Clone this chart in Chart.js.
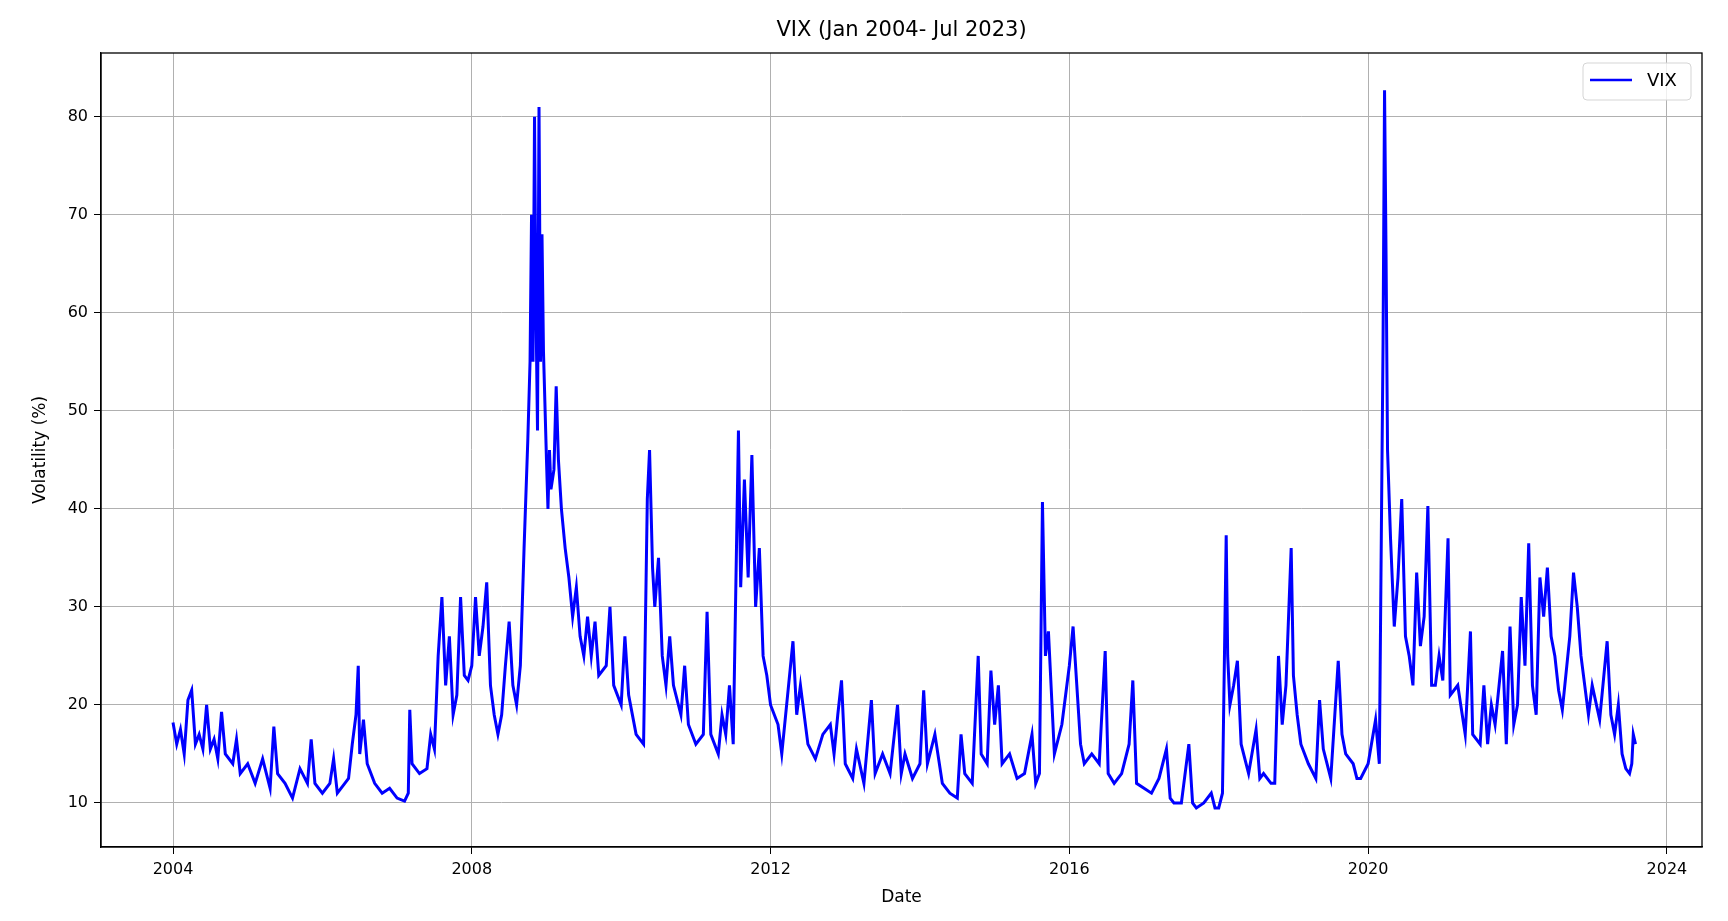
<!DOCTYPE html>
<html>
<head>
<meta charset="utf-8">
<script src="https://cdn.jsdelivr.net/npm/chart.js@4/dist/chart.umd.min.js"></script>
<style>
  html, body { margin: 0; padding: 0; background: #fff; }
  #wrap { width: 1728px; height: 921px; }
</style>
</head>
<body>
<div id="wrap"><canvas id="chartVix"></canvas></div>
<script>
// fechas en años decimales y valores del VIX
const fechas = [
  2004.0, 2004.05, 2004.1, 2004.15, 2004.2, 2004.25, 2004.3, 2004.35, 2004.4, 2004.45, 2004.5, 2004.55, 2004.6, 2004.65, 2004.7, 2004.8, 2004.85, 2004.9,
  2005.0, 2005.1, 2005.2, 2005.3, 2005.35, 2005.4, 2005.5, 2005.6, 2005.7, 2005.8, 2005.85, 2005.9,
  2006.0, 2006.1, 2006.15, 2006.2, 2006.3, 2006.35, 2006.4, 2006.45, 2006.48, 2006.5, 2006.55, 2006.6, 2006.7, 2006.8, 2006.9,
  2007.0, 2007.1, 2007.15, 2007.17, 2007.2, 2007.3, 2007.4, 2007.45, 2007.5, 2007.55, 2007.6, 2007.65, 2007.7, 2007.75, 2007.8, 2007.85, 2007.9, 2007.95,
  2008.0, 2008.05, 2008.1, 2008.15, 2008.2, 2008.25, 2008.3, 2008.35, 2008.4, 2008.45, 2008.5, 2008.55, 2008.6, 2008.65, 2008.7, 2008.75, 2008.78, 2008.8, 2008.82, 2008.84, 2008.86, 2008.88, 2008.9, 2008.92, 2008.94, 2008.96,
  2009.0, 2009.02, 2009.04, 2009.06, 2009.1, 2009.13, 2009.16, 2009.2, 2009.25, 2009.3, 2009.35, 2009.4, 2009.45, 2009.5, 2009.55, 2009.6, 2009.65, 2009.7, 2009.8, 2009.85, 2009.9,
  2010.0, 2010.05, 2010.1, 2010.2, 2010.3, 2010.35, 2010.38, 2010.42, 2010.45, 2010.5, 2010.55, 2010.6, 2010.65, 2010.7, 2010.8, 2010.85, 2010.9,
  2011.0, 2011.1, 2011.15, 2011.2, 2011.3, 2011.35, 2011.4, 2011.45, 2011.5, 2011.57, 2011.6, 2011.65, 2011.7, 2011.75, 2011.8, 2011.85, 2011.9, 2011.95,
  2012.0, 2012.1, 2012.15, 2012.3, 2012.35, 2012.4, 2012.5, 2012.6, 2012.7, 2012.8, 2012.85, 2012.9, 2012.95,
  2013.0, 2013.1, 2013.15, 2013.25, 2013.35, 2013.4, 2013.5, 2013.6, 2013.7, 2013.75, 2013.8, 2013.9,
  2014.0, 2014.05, 2014.1, 2014.2, 2014.3, 2014.4, 2014.5, 2014.55, 2014.6, 2014.7, 2014.78, 2014.82, 2014.9, 2014.95,
  2015.0, 2015.05, 2015.1, 2015.2, 2015.3, 2015.4, 2015.5, 2015.55, 2015.6, 2015.64, 2015.68, 2015.72, 2015.8, 2015.9,
  2016.0, 2016.05, 2016.1, 2016.15, 2016.2, 2016.3, 2016.4, 2016.48, 2016.52, 2016.6, 2016.7, 2016.8, 2016.85, 2016.9,
  2017.0, 2017.1, 2017.2, 2017.3, 2017.35, 2017.4, 2017.5, 2017.6, 2017.65, 2017.7, 2017.8, 2017.9, 2017.95,
  2018.0, 2018.05, 2018.1, 2018.12, 2018.15, 2018.2, 2018.25, 2018.3, 2018.4, 2018.5, 2018.55, 2018.6, 2018.7, 2018.75, 2018.8, 2018.85, 2018.9, 2018.97,
  2019.0, 2019.05, 2019.1, 2019.2, 2019.3, 2019.35, 2019.4, 2019.5, 2019.6, 2019.65, 2019.7, 2019.8, 2019.85, 2019.9,
  2020.0, 2020.1, 2020.15, 2020.18, 2020.2, 2020.22, 2020.24, 2020.26, 2020.3, 2020.35, 2020.4, 2020.45, 2020.5, 2020.55, 2020.6, 2020.65, 2020.7, 2020.75, 2020.8, 2020.85, 2020.9, 2020.95,
  2021.0, 2021.07, 2021.1, 2021.2, 2021.3, 2021.37, 2021.4, 2021.5, 2021.55, 2021.6, 2021.65, 2021.7, 2021.8, 2021.85, 2021.9, 2021.95,
  2022.0, 2022.05, 2022.1, 2022.15, 2022.2, 2022.25, 2022.3, 2022.35, 2022.4, 2022.45, 2022.5, 2022.55, 2022.6, 2022.7, 2022.75, 2022.8, 2022.85, 2022.9, 2022.95,
  2023.0, 2023.1, 2023.2, 2023.25, 2023.3, 2023.35, 2023.4, 2023.45, 2023.5, 2023.53, 2023.55, 2023.58
];
const valoresVix = [
  18.2, 16, 17.5, 15, 20.5, 21.5, 16, 17, 15.5, 20, 15.5, 16.5, 14.5, 19.3, 15, 14, 16.5, 13,
  14, 12, 14.5, 11.5, 17.8, 13, 12, 10.5, 13.5, 12, 16.5, 12,
  11, 12, 14.5, 11, 12, 12.5, 16, 19, 24, 15, 18.5, 14, 12, 11, 11.5,
  10.5, 10.2, 11, 19.5, 14, 13, 13.5, 17, 15.5, 25, 31, 22, 27, 19, 21, 31, 23, 22.5,
  24, 31, 25, 28, 32.5, 22, 19, 17, 19, 24, 28.5, 22, 20, 24, 36, 47, 55, 70, 55, 80, 60, 48, 81, 55, 68, 56,
  45, 40, 46, 42, 44, 52.5, 45, 40, 36, 33, 29, 32, 27, 25, 29, 25, 28.5, 23, 24, 30, 22,
  20, 27, 21, 17, 16, 41, 46, 34, 30, 35, 25, 22, 27, 22, 19, 24, 18,
  16, 17, 29.5, 17, 15, 19, 17, 22, 16, 48, 32, 43, 33, 45.5, 30, 36, 25, 23,
  20, 18, 15, 26.5, 19, 22, 16, 14.5, 17, 18, 15, 19, 22.5,
  14, 12.5, 15.5, 12, 20.5, 13, 15, 13, 20, 13, 15, 12.5,
  14, 21.5, 14, 17, 12, 11, 10.5, 17, 13, 12, 25, 15, 14, 23.5,
  18, 22, 14, 15, 12.5, 13, 17, 12, 13, 40.7, 25, 27.5, 15, 18,
  24, 28, 22, 16, 14, 15, 14, 25.5, 13, 12, 13, 16, 22.5, 12,
  11.5, 11, 12.5, 15.5, 10.5, 10, 10, 16, 10, 9.5, 10, 11, 9.5,
  9.5, 11, 37.3, 25, 20, 22, 24.5, 16, 13, 17.5, 12.5, 13, 12, 12, 25, 18, 22, 36,
  23, 19, 16, 14, 12.5, 20.5, 15.5, 12.5, 24.5, 17, 15, 14, 12.5, 12.5,
  14, 18.5, 14, 40, 57, 82.7, 66, 46, 37, 28, 33, 41, 27, 25, 22, 33.5, 26, 29, 40.3, 22, 22, 25,
  22.5, 37, 21, 22, 17, 27.5, 17, 16, 22, 16, 20, 18, 25.5, 16, 28, 18,
  20, 31, 24, 36.5, 22, 19, 33, 29, 34, 27, 25, 21.5, 19.5, 27, 33.5, 30, 25, 22, 19,
  22, 18.5, 26.5, 19, 17, 20, 15, 13.5, 13, 14, 17, 16
];
const ticksAnio = [2004, 2008, 2012, 2016, 2020, 2024];
const ticksVol = [10, 20, 30, 40, 50, 60, 70, 80];

const fuente = "'DejaVu Sans', sans-serif";

// título, marco y leyenda al estilo matplotlib
const decoracion = {
  id: "decoracion",
  afterDraw(chart) {
    const { ctx, chartArea: a } = chart;
    ctx.save();
    ctx.strokeStyle = "#000";
    ctx.lineWidth = 1.3;
    ctx.strokeRect(a.left, a.top, a.right - a.left, a.bottom - a.top);

    ctx.fillStyle = "#000";
    ctx.font = "21px " + fuente;
    ctx.textAlign = "center";
    ctx.textBaseline = "middle";
    ctx.fillText("VIX (Jan 2004- Jul 2023)", (a.left + a.right) / 2, 31);

    // leyenda
    const x = 1583, y = 63, w = 108, h = 37;
    ctx.fillStyle = "rgba(255,255,255,0.8)";
    ctx.strokeStyle = "#d5d5d5";
    ctx.lineWidth = 1;
    ctx.beginPath();
    ctx.roundRect(x, y, w, h, 4);
    ctx.fill();
    ctx.stroke();
    ctx.strokeStyle = "#0000ff";
    ctx.lineWidth = 2.5;
    ctx.beginPath();
    ctx.moveTo(x + 7, y + 17);
    ctx.lineTo(x + 49, y + 17);
    ctx.stroke();
    ctx.fillStyle = "#000";
    ctx.font = "18px " + fuente;
    ctx.textAlign = "left";
    ctx.fillText("VIX", x + 64, y + 18);
    ctx.restore();
  }
};

new Chart(document.getElementById("chartVix"), {
  type: "line",
  data: {
    datasets: [{
      label: "VIX",
      data: fechas.map((f, i) => ({ x: f, y: valoresVix[i] })),
      borderColor: "#0000ff",
      borderWidth: 3,
      pointRadius: 0,
      tension: 0,
      fill: false
    }]
  },
  options: {
    responsive: true,
    maintainAspectRatio: false,
    animation: false,
    layout: { padding: { top: 53, right: 26, left: 26, bottom: 9 } },
    plugins: { legend: { display: false }, title: { display: false }, tooltip: { enabled: false } },
    scales: {
      x: {
        type: "linear",
        min: 2003.036,
        max: 2024.47,
        afterBuildTicks: (s) => { s.ticks = ticksAnio.map(v => ({ value: v })); },
        afterFit: (s) => { s.height = 65; },
        ticks: { color: "#000", font: { family: fuente, size: 16 }, padding: 6, maxRotation: 0, callback: v => String(v) },
        grid: { color: "#b0b0b0", lineWidth: 1, tickLength: 7, tickColor: "#000" },
        border: { color: "#000", width: 1.3 },
        title: { display: true, text: "Date", color: "#000", font: { family: fuente, size: 17 }, padding: { top: 4 } }
      },
      y: {
        min: 5.51,
        max: 86.5,
        afterBuildTicks: (s) => { s.ticks = ticksVol.map(v => ({ value: v })); },
        afterFit: (s) => { s.width = 75; },
        ticks: { color: "#000", font: { family: fuente, size: 16 }, padding: 6 },
        grid: { color: "#b0b0b0", lineWidth: 1, tickLength: 7, tickColor: "#000" },
        border: { color: "#000", width: 1.3 },
        title: { display: true, text: "Volatility (%)", color: "#000", font: { family: fuente, size: 17 }, padding: { bottom: 4 } }
      }
    }
  },
  plugins: [decoracion]
});
</script>
</body>
</html>
